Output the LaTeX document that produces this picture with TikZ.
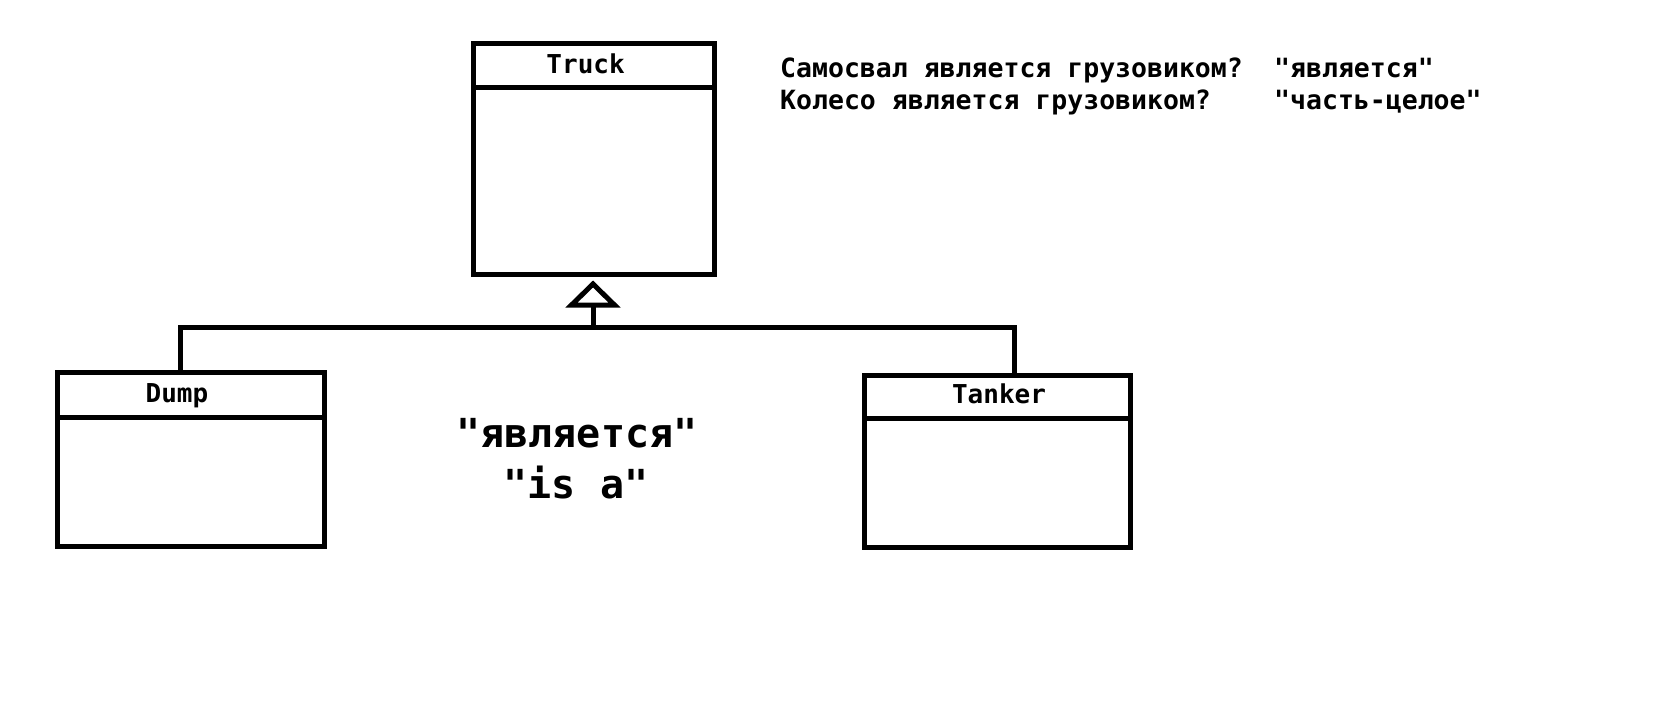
\documentclass[tikz,border=0pt]{standalone}
\usepackage{fontspec}
\newfontfamily\umlmono{DejaVu Sans Mono}
\begin{document}
\begin{tikzpicture}[x=1pt,y=-1pt,
  umlbox/.style={draw,line width=5pt,minimum width=#1,inner sep=0pt},
  umlline/.style={line width=5pt},
  titletext/.style={font=\umlmono\bfseries\fontsize{26}{30}\selectfont,anchor=base,inner sep=0pt},
  qtext/.style={font=\umlmono\bfseries\fontsize{26.5}{30}\selectfont,anchor=base west,inner sep=0pt},
  bigtext/.style={font=\umlmono\bfseries\fontsize{40}{48}\selectfont,anchor=base,inner sep=0pt}
]
\fill[white] (0,0) rectangle (1666,702);
\useasboundingbox (0,0) rectangle (1666,702);

% class boxes
\node[umlbox=241pt,minimum height=231pt] (truck) at (594,159) {};
\node[umlbox=267pt,minimum height=174pt] (dump) at (191,459.5) {};
\node[umlbox=266pt,minimum height=172pt] (tanker) at (997.5,461.5) {};

% header separators
\draw[umlline] (truck.west |- 0,87) -- (truck.east |- 0,87);
\draw[umlline] (dump.west |- 0,417) -- (dump.east |- 0,417);
\draw[umlline] (tanker.west |- 0,418) -- (tanker.east |- 0,418);

% titles
\node[titletext] (truckT) at (585.6,73) {Truck};
\node[titletext] (dumpT) at (177,402) {Dump};
\node[titletext] (tankerT) at (999,403) {Tanker};

% generalization connector
\coordinate (hub) at (593,327.5);
\coordinate (dj) at (180.5,327.5);
\coordinate (tj) at (1014,327.5);
\coordinate (tb) at (593,305);
\coordinate (tip) at (593,284);
\draw[umlline] (dump.north -| dj) -- (dj) -- (tj) -- (tanker.north -| tj);
\draw[umlline] (hub) -- (tb);
\draw[umlline] ([xshift=-21.5pt]tb) -- (tip) -- ([xshift=21.5pt]tb) -- cycle;

% centre label
\node[bigtext] (isa1) at (577,447) {"является"};
\node[bigtext] (isa2) at (576,498) {"is a"};

% questions
\node[qtext] (q1) at (780,77) {Самосвал является грузовиком?};
\node[qtext] (q2) at (780,109) {Колесо является грузовиком?};
\node[qtext] (a1) at (1274,77) {"является"};
\node[qtext] (a2) at (1274,109) {"часть-целое"};
\end{tikzpicture}
\end{document}
